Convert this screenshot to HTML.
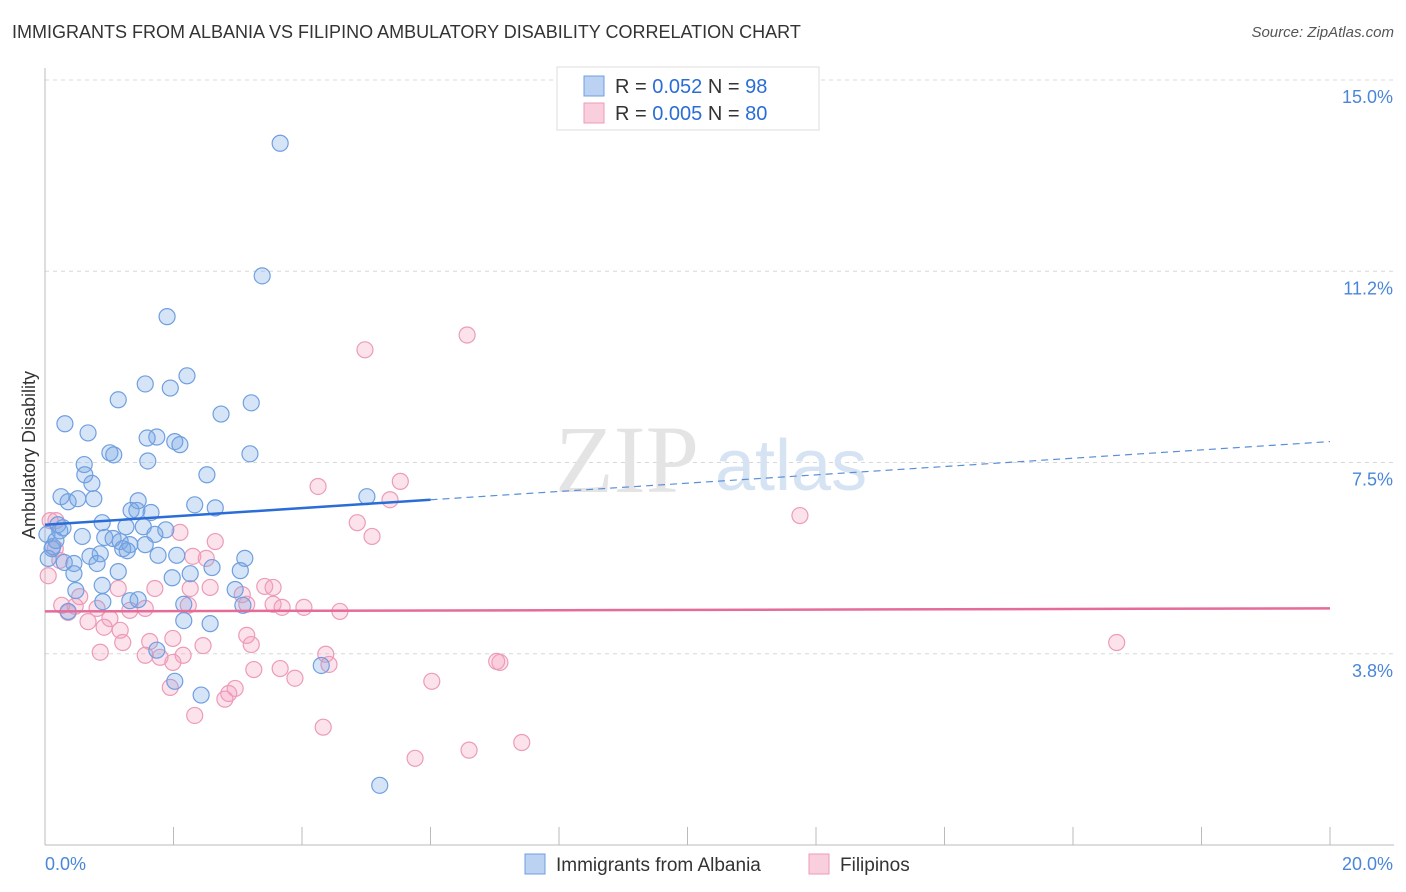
<!DOCTYPE html>
<html><head><meta charset="utf-8"><style>
body{margin:0;background:#fff;font-family:"Liberation Sans",sans-serif;}
#wrap{position:relative;width:1406px;height:892px;overflow:hidden;}
.title{position:absolute;left:12px;top:22px;font-size:18px;color:#333;}
.source{position:absolute;right:12px;top:24px;font-size:15px;color:#555;font-style:italic;}
</style></head><body>
<div id="wrap">
<div class="title">IMMIGRANTS FROM ALBANIA VS FILIPINO AMBULATORY DISABILITY CORRELATION CHART</div>
<div class="source">Source: ZipAtlas.com</div>
<svg id="svg" width="1406" height="892" style="position:absolute;left:0;top:0"></svg>
</div>
<script>
const blueX=[3.66,3.38,1.90,2.21,1.56,1.95,1.14,3.21,2.74,0.31,0.67,1.74,1.59,2.02,2.10,1.01,1.07,3.19,1.60,0.61,0.62,2.52,0.73,5.01,0.25,0.36,0.76,0.51,1.45,2.33,2.65,1.34,1.43,1.65,0.89,1.26,1.53,0.20,0.28,1.88,0.03,1.71,0.58,0.93,1.06,1.17,1.32,1.56,0.12,1.21,1.28,0.86,1.76,0.70,2.05,3.11,0.05,0.30,0.45,0.81,2.60,1.14,0.45,2.26,1.98,3.04,0.89,0.48,2.96,1.45,0.90,1.32,2.16,3.08,0.36,2.16,2.57,1.74,4.30,2.02,2.43,5.21,0.11,0.17,0.23];
const blueY=[13.76,11.16,10.36,9.20,9.04,8.96,8.73,8.67,8.45,8.26,8.08,8.00,7.98,7.91,7.85,7.69,7.65,7.67,7.53,7.46,7.26,7.26,7.09,6.83,6.83,6.73,6.79,6.79,6.75,6.67,6.61,6.56,6.56,6.52,6.32,6.24,6.24,6.28,6.22,6.18,6.09,6.09,6.05,6.03,6.01,5.95,5.89,5.89,5.85,5.81,5.77,5.71,5.68,5.66,5.68,5.62,5.62,5.54,5.52,5.52,5.44,5.36,5.32,5.32,5.24,5.38,5.09,4.99,5.01,4.81,4.77,4.79,4.72,4.70,4.58,4.40,4.34,3.82,3.52,3.21,2.94,1.17,5.81,5.97,6.16];
const pinkX=[6.57,4.98,5.53,4.25,5.37,11.75,4.86,5.09,2.10,2.65,2.30,2.51,0.08,0.16,0.23,0.05,2.26,2.57,3.42,3.55,3.07,3.55,3.14,3.69,4.03,4.59,2.23,1.56,0.81,0.47,0.36,1.32,1.01,0.67,1.17,0.92,3.14,1.99,1.63,1.21,3.21,2.46,0.86,1.56,2.15,1.79,4.37,4.42,1.99,3.66,3.25,7.08,7.03,16.68,6.02,3.89,2.96,2.86,1.95,2.80,2.33,4.33,7.42,6.60,5.76,0.26,0.54,1.14,1.71,0.17];
const pinkY=[10.00,9.71,7.13,7.03,6.77,6.46,6.32,6.05,6.13,5.95,5.66,5.62,6.36,5.81,5.58,5.28,5.03,5.05,5.07,5.05,4.91,4.72,4.72,4.66,4.66,4.58,4.70,4.64,4.64,4.68,4.56,4.60,4.44,4.38,4.21,4.27,4.11,4.05,3.99,3.97,3.93,3.91,3.78,3.72,3.72,3.68,3.74,3.54,3.58,3.46,3.44,3.58,3.60,3.97,3.21,3.27,3.07,2.97,3.09,2.86,2.54,2.31,2.01,1.86,1.70,4.70,4.87,5.03,5.03,6.36];
const blueTrend=[6.28,7.91];
const pinkTrend=[4.58,4.64];
const yTicks=[15.0,11.25,7.5,3.75];
const yTickLabels=["15.0%","11.2%","7.5%","3.8%"];
const xTicks=[0,2,4,6,8,10,12,14,16,18,20];

const L=45,R=1330,T=80,B=845;
const sx=v=>L+(v/20)*(R-L);
const sy=v=>B-(v/15)*(B-T);
const svg=document.getElementById('svg');
const NS='http://www.w3.org/2000/svg';
function mk(t,a){const e=document.createElementNS(NS,t);for(const k in a)e.setAttribute(k,a[k]);svg.appendChild(e);return e;}

// grid
yTicks.forEach((v,i)=>{
 const g=mk('line',{x1:L,x2:1394,y1:sy(v),y2:sy(v),stroke:'#d8d8d8','stroke-dasharray':'4,4'});
 
 
 const t=mk('text',{x:1393,y:sy(v)+23,'text-anchor':'end','font-size':18,fill:'#4a86d8'});
 t.textContent=yTickLabels[i];
 
 
});
const ax=mk('line',{x1:L,x2:L,y1:68,y2:B,stroke:'#bbb'});


const bx=mk('line',{x1:L,x2:1394,y1:B,y2:B,stroke:'#bbb'});


xTicks.forEach(v=>{
 const tk=mk('line',{x1:sx(v),x2:sx(v),y1:B,y2:B-18,stroke:'#bbb'});
 
 
});
const x0=mk('text',{x:45,y:870,'font-size':18,fill:'#4a86d8'});x0.textContent='0.0%';


const x1=mk('text',{x:1393,y:870,'text-anchor':'end','font-size':18,fill:'#4a86d8'});x1.textContent='20.0%';


const yt=mk('text',{x:35,y:455,'font-size':18,fill:'#333','text-anchor':'middle',transform:'rotate(-90 35 455)'});yt.textContent='Ambulatory Disability';


// watermark
const wm=mk('text',{x:555,y:492,'font-size':96,fill:'#e4e4e4','font-family':'Liberation Serif, serif'});wm.textContent='ZIP';


const wm2=mk('text',{x:715,y:490,'font-size':72,fill:'#d6e3f3'});wm2.textContent='atlas';



// points
pinkX.forEach((x,i)=>{
 const c=mk('circle',{cx:sx(x),cy:sy(pinkY[i]),r:8,fill:'rgba(244,160,188,0.3)',stroke:'#ec9bb8','stroke-width':1.2});
 
 
});
blueX.forEach((x,i)=>{
 const c=mk('circle',{cx:sx(x),cy:sy(blueY[i]),r:8,fill:'rgba(120,165,230,0.3)',stroke:'#6f9fe0','stroke-width':1.2});
 
 
});
// trends
const bxm=6;
const bAt=v=>blueTrend[0]+(blueTrend[1]-blueTrend[0])*v/20;
const t1=mk('line',{x1:sx(0),y1:sy(bAt(0)),x2:sx(bxm),y2:sy(bAt(bxm)),stroke:'#2a6dd6','stroke-width':2.5});


const t2=mk('line',{x1:sx(bxm),y1:sy(bAt(bxm)),x2:sx(20),y2:sy(bAt(20)),stroke:'#5a8fd8','stroke-width':1.2,'stroke-dasharray':'7,5'});


const t3=mk('line',{x1:sx(0),y1:sy(pinkTrend[0]),x2:sx(20),y2:sy(pinkTrend[1]),stroke:'#e56b98','stroke-width':2.5});



// top legend
const lb=mk('rect',{x:557,y:67,width:262,height:63,fill:'#fff',stroke:'#ddd'});


[[0,'rgba(120,165,230,0.5)','#6f9fe0','0.052','98'],[1,'rgba(244,160,188,0.5)','#ec9bb8','0.005','80']].forEach(([i,f,s,r,n])=>{
 const y=86+i*27;
 const sw=mk('rect',{x:584,y:y-10,width:20,height:20,fill:f,stroke:s});
 
 
 const t=mk('text',{x:615,y:y+7,'font-size':20,fill:'#333'});
 t.innerHTML='R = <tspan fill="#2a6dd6">'+r+'</tspan>   N = <tspan fill="#2a6dd6">'+n+'</tspan>';
 t.setAttribute('xml:space','preserve');
 
 
});
// bottom legend
[[525,'rgba(120,165,230,0.5)','#6f9fe0','Immigrants from Albania'],[809,'rgba(244,160,188,0.5)','#ec9bb8','Filipinos']].forEach(([x,f,s,l])=>{
 const sw=mk('rect',{x:x,y:854,width:20,height:20,fill:f,stroke:s});
 
 
 const t=mk('text',{x:x+31,y:871,'font-size':19,fill:'#333'});t.textContent=l;
 
 
});
</script>
</body></html>
